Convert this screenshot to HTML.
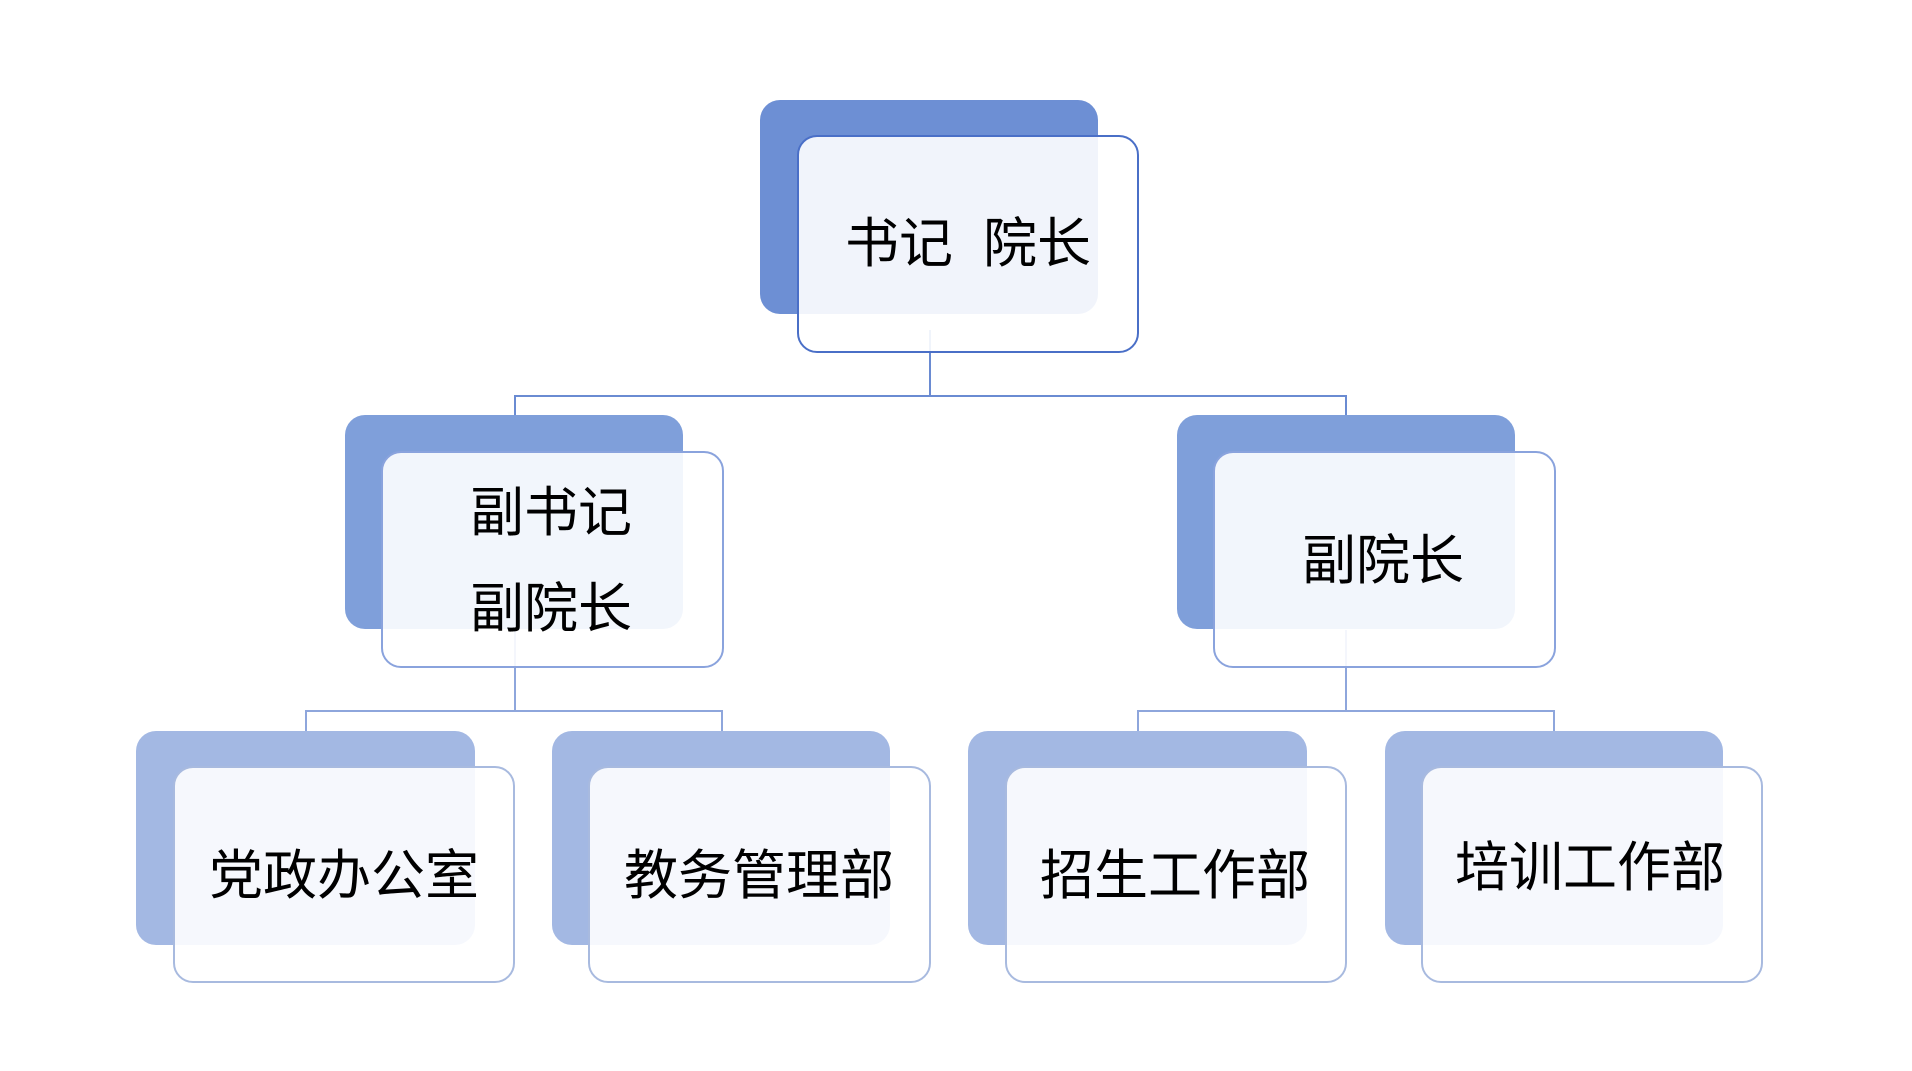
<!DOCTYPE html>
<html><head><meta charset="utf-8"><style>
body{margin:0;width:1912px;height:1071px;background:#fff;position:relative;overflow:hidden;font-family:"Liberation Sans","Noto Sans CJK SC",sans-serif}
div{position:absolute;box-sizing:border-box}
.b{border-radius:20px}
.f{border-radius:20px;background:rgba(255,255,255,0.9);border:2px solid}
.t{color:#000;font-size:54px;white-space:nowrap;line-height:1}
.l{background:#8ea6dc}
</style></head><body>
<!-- connectors -->
<div class="l" style="left:929px;top:330px;width:2px;height:66px;background:#6a8bd2"></div>
<div class="l" style="left:514px;top:395px;width:833px;height:2px;background:#6a8bd2"></div>
<div class="l" style="left:514px;top:395px;width:2px;height:24px;background:#6a8bd2"></div>
<div class="l" style="left:1345px;top:395px;width:2px;height:24px;background:#6a8bd2"></div>
<div class="l" style="left:514px;top:630px;width:2px;height:80px"></div>
<div class="l" style="left:305px;top:710px;width:418px;height:2px"></div>
<div class="l" style="left:305px;top:710px;width:2px;height:24px"></div>
<div class="l" style="left:721px;top:710px;width:2px;height:24px"></div>
<div class="l" style="left:1345px;top:630px;width:2px;height:80px"></div>
<div class="l" style="left:1137px;top:710px;width:418px;height:2px"></div>
<div class="l" style="left:1137px;top:710px;width:2px;height:24px"></div>
<div class="l" style="left:1553px;top:710px;width:2px;height:24px"></div>

<!-- top -->
<div class="b" style="left:760px;top:100px;width:338px;height:214px;background:#6d8fd4"></div>
<div class="f" style="left:797px;top:135px;width:342px;height:218px;border-color:#4a6fc7"></div>
<div class="t" style="left:845px;top:217px;">书记&nbsp;&nbsp;院长</div>

<!-- middle -->
<div class="b" style="left:345px;top:415px;width:338px;height:214px;background:#7f9fda"></div>
<div class="f" style="left:381px;top:451px;width:343px;height:217px;border-color:#8aa3dd"></div>
<div class="t" style="left:470px;top:486px;">副书记</div>
<div class="t" style="left:470px;top:582px;">副院长</div>

<div class="b" style="left:1177px;top:415px;width:338px;height:214px;background:#7f9fda"></div>
<div class="f" style="left:1213px;top:451px;width:343px;height:217px;border-color:#8aa3dd"></div>
<div class="t" style="left:1302px;top:534px;">副院长</div>

<!-- bottom -->
<div class="b" style="left:136px;top:731px;width:339px;height:214px;background:#a3b8e3"></div>
<div class="f" style="left:173px;top:766px;width:342px;height:217px;border-color:#a8badf"></div>
<div class="t" style="left:209px;top:849px;">党政办公室</div>

<div class="b" style="left:552px;top:731px;width:338px;height:214px;background:#a3b8e3"></div>
<div class="f" style="left:588px;top:766px;width:343px;height:217px;border-color:#a8badf"></div>
<div class="t" style="left:624px;top:849px;">教务管理部</div>

<div class="b" style="left:968px;top:731px;width:339px;height:214px;background:#a3b8e3"></div>
<div class="f" style="left:1005px;top:766px;width:342px;height:217px;border-color:#a8badf"></div>
<div class="t" style="left:1040px;top:849px;">招生工作部</div>

<div class="b" style="left:1385px;top:731px;width:338px;height:214px;background:#a3b8e3"></div>
<div class="f" style="left:1421px;top:766px;width:342px;height:217px;border-color:#a8badf"></div>
<div class="t" style="left:1455px;top:841px;">培训工作部</div>
</body></html>
